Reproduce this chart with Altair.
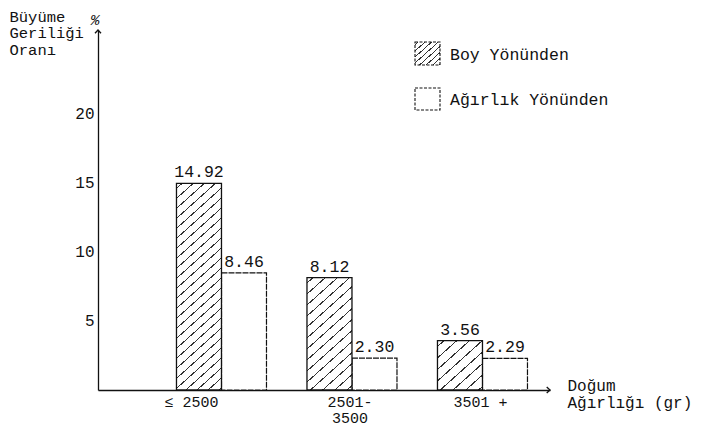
import math
import altair as alt
import pandas as pd

# ---- data ----
groups = ["≤ 2500", "2501-3500", "3501 +"]
series = ["Boy Yönünden", "Ağırlık Yönünden"]
boy_values = [14.92, 8.12, 3.56]
agirlik_values = [8.46, 2.30, 2.29]
y_ticks = [5, 10, 15, 20]

rows = []
for g, b, a in zip(groups, boy_values, agirlik_values):
    rows.append({"group": g, "series": series[0], "value": b})
    rows.append({"group": g, "series": series[1], "value": a})
df = pd.DataFrame(rows)
legend_df = pd.DataFrame({"series": series})

# ---- layout / style ----
W, H = 452, 360
YMAX = 26
PX = H / YMAX
BAR_W = 45
FONT = "Liberation Mono"
INK = "#111111"


def hatch(w, h, slope=0.9, spacing=10.0, thick=1.0):
    """Diagonal '/' stripes as a hard-stop linear gradient (bbox units)."""
    r = slope * w / h
    k = (r + 1) / (r * r + 1)
    a, b = k * r, k
    n = h * (r + 1) / spacing
    perp = spacing * math.cos(math.atan(slope))
    d = (thick / perp) / (2 * n)
    stops = [{"offset": 0, "color": "white"}]
    i = 0
    while True:
        c = (i + 0.5) / n
        lo, hi = c - d, c + d
        if lo >= 1:
            break
        lo, hi = max(lo, 0), min(hi, 1)
        stops += [
            {"offset": round(lo, 5), "color": "white"},
            {"offset": round(lo, 5), "color": "#333333"},
            {"offset": round(hi, 5), "color": "#333333"},
            {"offset": round(hi, 5), "color": "white"},
        ]
        i += 1
    stops.append({"offset": 1, "color": "white"})
    return {"gradient": "linear", "x1": 0, "y1": 0, "x2": a, "y2": b, "stops": stops}


x_enc = alt.X(
    "group:N",
    scale=alt.Scale(domain=groups, paddingInner=0.3103, paddingOuter=0.387, align=0.777),
    axis=alt.Axis(
        ticks=False, grid=False, labelAngle=0, labelFont=FONT, labelFontSize=15,
        labelColor=INK, labelPadding=4, labelBaseline="top", labelLineHeight=16,
        labelExpr="datum.label == '2501-3500' ? ['2501-', '3500'] : datum.label",
        labelOffset={"condition": {"test": "datum.value == '≤ 2500'", "value": -30}, "value": -2},
        domainColor=INK, domainWidth=1.3,
        title=["Doğum", "Ağırlığı (gr)"], titleAngle=0, titleAlign="left",
        titleBaseline="top", titleX=469, titleY=-13, titleFont=FONT,
        titleFontSize=16, titleFontWeight="normal", titleColor=INK, titleLineHeight=17,
    ),
)
xo_enc = alt.XOffset("series:N", scale=alt.Scale(domain=series, paddingInner=0, paddingOuter=0))
y_enc = alt.Y(
    "value:Q",
    scale=alt.Scale(domain=[0, YMAX], nice=False, zero=True),
    axis=alt.Axis(
        values=y_ticks, ticks=False, grid=False, labelFont=FONT, labelFontSize=16,
        labelColor=INK, labelPadding=4, domainColor=INK, domainWidth=1.3,
        title=["Büyüme", "Geriliği", "Oranı"], titleAngle=0, titleAlign="left",
        titleBaseline="top", titleX=-89, titleY=-21, titleFont=FONT, titleFontSize=15.5,
        titleFontWeight="normal", titleColor=INK, titleLineHeight=16.5,
    ),
)

base = alt.Chart(df).encode(x=x_enc, xOffset=xo_enc, y=y_enc)

open_bars = base.mark_bar(
    fill="white", stroke=INK, strokeWidth=1.2, strokeDash=[6, 1]
).transform_filter(alt.datum.series == series[1])

hatched_layers = []
spacings = [10.0, 11.0, 11.5]
for g, v, sp in zip(groups, boy_values, spacings):
    hatched_layers.append(
        base.mark_bar(fill=hatch(BAR_W, v * PX, spacing=sp), stroke=INK, strokeWidth=1.3)
        .transform_filter((alt.datum.group == g) & (alt.datum.series == series[0]))
    )

labels = base.mark_text(
    baseline="bottom", dy=-3, font=FONT, fontSize=16.5, color=INK
).encode(text=alt.Text("value:Q", format=".2f"))

# axis arrowheads
arrow_data = alt.Data(values=[{}])
y_arrow = alt.Chart(arrow_data).mark_point(
    shape="M-1,1.1L0,0L1,1.1", filled=False, stroke=INK, strokeWidth=1.3, size=36, opacity=1
).encode(x=alt.value(0), y=alt.value(0))
x_arrow = alt.Chart(arrow_data).mark_point(
    shape="M-1.1,-1L0,0L-1.1,1", filled=False, stroke=INK, strokeWidth=1.3, size=36, opacity=1
).encode(x=alt.value(W), y=alt.value(H))
pct = alt.Chart(arrow_data).mark_text(
    text="%", font=FONT, fontSize=15, color=INK, fontStyle="italic"
).encode(x=alt.value(-3), y=alt.value(-10))

# custom legend
leg_hatch = alt.Chart(legend_df).mark_rect(
    fill=hatch(25, 23, slope=0.9, spacing=6.0, thick=0.9), stroke=INK, strokeWidth=1.1,
    strokeDash=[3, 1.5]
).encode(x=alt.value(317), x2=alt.value(342), y=alt.value(12), y2=alt.value(35)).transform_filter(
    alt.datum.series == series[0])
leg_open = alt.Chart(legend_df).mark_rect(
    fill="white", stroke=INK, strokeWidth=1.1, strokeDash=[3, 1.5]
).encode(x=alt.value(317), x2=alt.value(342), y=alt.value(58), y2=alt.value(80)).transform_filter(
    alt.datum.series == series[1])
leg_t1 = alt.Chart(legend_df).mark_text(
    align="left", baseline="middle", font=FONT, fontSize=16.5, color=INK
).encode(x=alt.value(352), y=alt.value(25), text="series:N").transform_filter(
    alt.datum.series == series[0])
leg_t2 = alt.Chart(legend_df).mark_text(
    align="left", baseline="middle", font=FONT, fontSize=16.5, color=INK
).encode(x=alt.value(352), y=alt.value(70), text="series:N").transform_filter(
    alt.datum.series == series[1])

chart = alt.layer(
    open_bars, *hatched_layers, labels, y_arrow, x_arrow, pct,
    leg_hatch, leg_open, leg_t1, leg_t2,
).properties(
    width=W, height=H,
    autosize=alt.AutoSizeParams(type="none"),
    padding={"left": 90, "top": 22, "right": 161, "bottom": 37},
    background="white",
).configure_view(stroke=None)

chart.save("out.html", embed_options={"renderer": "svg", "actions": False})
